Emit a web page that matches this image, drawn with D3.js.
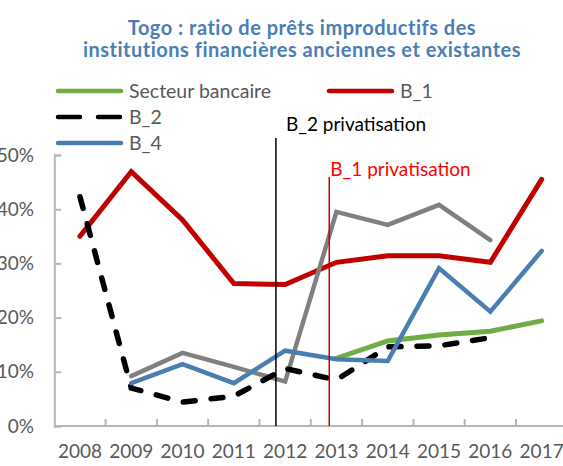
<!DOCTYPE html>
<html>
<head>
<meta charset="utf-8">
<script src="https://cdn.jsdelivr.net/npm/d3@7"></script>
<style>
  body { margin: 0; background: #fff; }
  svg { display: block; font-family: Lato, "Open Sans", sans-serif; }
</style>
</head>
<body>
<div id="chart"></div>
<script>
var years = [2008, 2009, 2010, 2011, 2012, 2013, 2014, 2015, 2016, 2017];
var yTicks = [0, 10, 20, 30, 40, 50];

// ratios in %, null = no data
var secteur = [null, null, null, null, null, 12.5, 15.7, 16.8, 17.5, 19.4];
var b1 = [35.0, 46.9, 38.0, 26.3, 26.1, 30.2, 31.4, 31.4, 30.2, 45.5];
var b2 = [42.3, 7.0, 4.4, 5.5, 10.6, 8.5, 14.6, 14.8, 16.3, null];
var b3 = [null, 9.2, 13.5, 10.9, 8.2, 39.5, 37.1, 40.8, 34.3, null];
var b4 = [null, 7.9, 11.4, 7.9, 13.9, 12.3, 12.0, 29.1, 21.1, 32.3];

var titleLines = ["Togo : ratio de prêts improductifs des", "institutions financières anciennes et existantes"];
var eventLabels = ["B_2 privatisation", "B_1 privatisation"];
var eventYears = [2011.82, 2012.86];

var width = 563, height = 466;
var plot = { left: 54.3, right: 567.3, top: 155, bottom: 426 };

var svg = d3.select("#chart").append("svg")
  .attr("width", width)
  .attr("height", height);

var x = d3.scaleBand()
  .domain(years)
  .range([plot.left, plot.right])
  .padding(0);

var xMid = function(yr) { return x(yr) + x.bandwidth() / 2; };

// continuous year scale for the event markers
var xYear = d3.scaleLinear()
  .domain([years[0], years[years.length - 1]])
  .range([xMid(years[0]), xMid(years[years.length - 1])]);

var y = d3.scaleLinear()
  .domain([0, 50])
  .range([plot.bottom, plot.top]);

var axisColor = "#b7b7b7";
var labelColor = "#595959";

// title
svg.append("g")
  .selectAll("text")
  .data(titleLines)
  .join("text")
    .attr("x", 302)
    .attr("y", (d, i) => 35 + i * 22)
    .attr("text-anchor", "middle")
    .style("font-size", "20px")
    .style("letter-spacing", "0.5px")
    .style("font-weight", "bold")
    .style("fill", "#4a7eb5")
    .text(d => d);

// y axis
var yAxis = svg.append("g")
  .attr("transform", "translate(" + plot.left + ",0)")
  .call(d3.axisRight(y).tickValues(yTicks).tickSize(7).tickFormat(""));
yAxis.select(".domain").attr("stroke", axisColor).attr("stroke-width", 2);
yAxis.selectAll(".tick line").attr("stroke", axisColor).attr("stroke-width", 2);

svg.append("g")
  .selectAll("text")
  .data(yTicks)
  .join("text")
    .attr("x", 34)
    .attr("y", d => y(d) + 6.5)
    .attr("text-anchor", "end")
    .style("font-size", "19px")
    .style("fill", labelColor)
    .text(d => d + "%");

// x axis
var xAxis = svg.append("g")
  .attr("transform", "translate(0," + plot.bottom + ")");
xAxis.append("line")
  .attr("x1", plot.left).attr("x2", plot.right)
  .attr("stroke", axisColor).attr("stroke-width", 2);
xAxis.selectAll(".xtick")
  .data(years.slice(1))
  .join("line")
    .attr("class", "xtick")
    .attr("x1", d => x(d)).attr("x2", d => x(d))
    .attr("y1", 0).attr("y2", -7)
    .attr("stroke", axisColor).attr("stroke-width", 2);
xAxis.selectAll(".xlabel")
  .data(years)
  .join("text")
    .attr("class", "xlabel")
    .attr("x", d => xMid(d))
    .attr("y", 32)
    .attr("text-anchor", "middle")
    .style("font-size", "19px")
    .style("fill", labelColor)
    .text(d => d);

// series
var series = [
  { name: "Secteur bancaire", values: secteur, color: "#70ad47", dash: null, width: 5 },
  { name: "B_1", values: b1, color: "#c00000", dash: null, width: 5 },
  { name: "B_3", values: b3, color: "#808080", dash: null, width: 4.5 },
  { name: "B_2", values: b2, color: "#000000", dash: "12,16", width: 5.5 },
  { name: "B_4", values: b4, color: "#4a7eb0", dash: null, width: 4.5 }
];

var line = d3.line()
  .defined(d => d.v != null)
  .x(d => xMid(d.year))
  .y(d => y(d.v));

svg.append("g")
  .selectAll("path")
  .data(series)
  .join("path")
    .attr("d", s => line(years.map((yr, i) => ({ year: yr, v: s.values[i] }))))
    .attr("fill", "none")
    .attr("stroke", s => s.color)
    .attr("stroke-width", s => s.width)
    .attr("stroke-linejoin", "miter")
    .attr("stroke-linecap", "round")
    .attr("stroke-dasharray", s => s.dash);

// event markers
var eventColors = ["#000000", "#c00000"];
var eventTextColors = ["#000000", "#ff0000"];
var eventTops = [138, 177];
var events = svg.append("g");
events.selectAll("line")
  .data(eventYears)
  .join("line")
    .attr("x1", d => xYear(d)).attr("x2", d => xYear(d))
    .attr("y1", (d, i) => eventTops[i]).attr("y2", plot.bottom)
    .attr("stroke", (d, i) => eventColors[i])
    .attr("stroke-width", 1.5);
events.selectAll("text")
  .data(eventLabels)
  .join("text")
    .attr("x", (d, i) => xYear(eventYears[i]) + (i === 0 ? 10 : 1))
    .attr("y", (d, i) => i === 0 ? 131 : 176)
    .style("font-size", "19px")
    .style("fill", (d, i) => eventTextColors[i])
    .text(d => d);

// legend
var legendItems = [
  { s: series[0], x: 56, y: 91 },
  { s: series[1], x: 327, y: 91 },
  { s: series[3], x: 56, y: 117 },
  { s: series[4], x: 56, y: 143 }
];
var legend = svg.append("g")
  .selectAll("g")
  .data(legendItems)
  .join("g")
    .attr("transform", d => "translate(" + d.x + "," + d.y + ")");
legend.append("line")
  .attr("x1", 2).attr("x2", 65)
  .attr("stroke", d => d.s.color)
  .attr("stroke-width", 4.5)
  .attr("stroke-linecap", "round")
  .attr("stroke-dasharray", d => d.s.dash ? "22,18" : null);
legend.append("text")
  .attr("x", 73)
  .attr("y", 6.5)
  .style("font-size", "19.5px")
  .style("fill", labelColor)
  .text(d => d.s.name);
</script>
</body>
</html>
